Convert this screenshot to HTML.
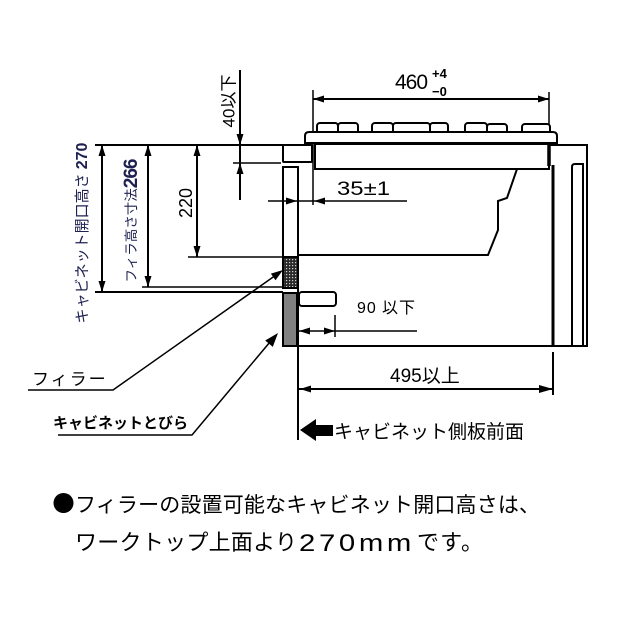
<!DOCTYPE html>
<html><head><meta charset="utf-8">
<style>
html,body{margin:0;padding:0;background:#fff;}
svg{display:block;}
text{font-family:"Liberation Sans","Noto Sans CJK JP",sans-serif;}
</style></head>
<body>
<svg width="640" height="640" viewBox="0 0 640 640" xmlns="http://www.w3.org/2000/svg">
<defs>
<pattern id="dots" width="3" height="3" patternUnits="userSpaceOnUse">
<rect width="3" height="3" fill="#2a2a2a"/>
<rect x="1" y="1" width="1.2" height="1.2" fill="#d0d0d0"/>
</pattern>
</defs>
<rect width="640" height="640" fill="#fff"/>

<g stroke="#000" fill="none">
<line x1="240" y1="70" x2="240" y2="200" stroke-width="2"/>
<line x1="95" y1="145" x2="283" y2="145" stroke-width="2"/>
<line x1="233" y1="163" x2="281" y2="163" stroke-width="1.5"/>
<line x1="197" y1="145" x2="197" y2="257" stroke-width="2"/>
<line x1="188" y1="257" x2="283" y2="257" stroke-width="1.5"/>
<line x1="148" y1="145" x2="148" y2="287" stroke-width="2"/>
<line x1="142" y1="287" x2="283" y2="287" stroke-width="1.5"/>
<line x1="102" y1="145" x2="102" y2="292" stroke-width="2"/>
<line x1="95" y1="292" x2="283" y2="292" stroke-width="2"/>
<line x1="313" y1="90" x2="313" y2="205" stroke-width="1.5"/>
<line x1="549" y1="92" x2="549" y2="143" stroke-width="1.5"/>
<line x1="313" y1="99" x2="549" y2="99" stroke-width="2"/>
</g>

<g fill="#000">
<polygon points="240,145 236.5,134 243.5,134"/>
<polygon points="240,163 236.5,174 243.5,174"/>
<polygon points="197,145 193.5,156 200.5,156"/>
<polygon points="197,257 193.5,246 200.5,246"/>
<polygon points="148,145 144.5,156 151.5,156"/>
<polygon points="148,287 144.5,276 151.5,276"/>
<polygon points="102,145 98.5,156 105.5,156"/>
<polygon points="102,292 98.5,281 105.5,281"/>
<polygon points="313,99 324,95.5 324,102.5"/>
<polygon points="549,99 538,95.5 538,102.5"/>
</g>

<g stroke="#000" stroke-width="2" fill="#fff">
<rect x="317" y="123" width="21" height="11" rx="3"/>
<rect x="338" y="123" width="20" height="11" rx="3"/>
<rect x="372" y="123" width="21" height="11" rx="3"/>
<rect x="393" y="123" width="37" height="11" rx="3"/>
<rect x="430" y="123" width="18" height="11" rx="3"/>
<rect x="465" y="123" width="22" height="11" rx="3"/>
<rect x="487" y="124" width="20" height="10" rx="3"/>
<rect x="522" y="124" width="28" height="10" rx="3"/>
<path d="M305,143 L305,136 Q305,132 309,132 L553,132 Q557,132 557,136 L557,143 Z"/>
<rect x="315" y="144" width="234" height="25"/>
<rect x="283" y="145" width="29" height="17" rx="1"/>
</g>
<line x1="549" y1="143" x2="549" y2="166" stroke="#000" stroke-width="3.5"/>
<polyline points="517,169 507,198 498,201 498,230 488,255 298,255" fill="none" stroke="#000" stroke-width="2"/>

<g stroke="#000" stroke-width="2" fill="none">
<polyline points="549,145 587,145 587,347"/>
<path d="M572,347 L572,167 Q572,164 575,164 L583,164 L583,347"/>
</g>
<line x1="553" y1="165" x2="553" y2="347" stroke="#000" stroke-width="3"/>

<rect x="283" y="167" width="15" height="90" fill="#fff" stroke="#000" stroke-width="2"/>
<rect x="283" y="257" width="15" height="31" fill="url(#dots)" stroke="#000" stroke-width="2"/>

<line x1="268" y1="201" x2="407" y2="201" stroke="#000" stroke-width="1.5"/>
<polygon points="297,201 286,197.5 286,204.5" fill="#000"/>
<polygon points="314,201 325,197.5 325,204.5" fill="#000"/>

<rect x="283" y="293" width="14" height="53" fill="#808080" stroke="#000" stroke-width="2"/>
<rect x="299" y="292" width="37" height="14" rx="3" fill="#fff" stroke="#000" stroke-width="2"/>
<line x1="283" y1="346" x2="587" y2="346" stroke="#000" stroke-width="2"/>
<line x1="298" y1="288" x2="298" y2="440" stroke="#000" stroke-width="2"/>

<line x1="335" y1="315" x2="335" y2="337" stroke="#000" stroke-width="1.5"/>
<line x1="298" y1="331" x2="417" y2="331" stroke="#000" stroke-width="1.5"/>
<polygon points="299,331 310,327.5 310,334.5" fill="#000"/>
<polygon points="335,331 324,327.5 324,334.5" fill="#000"/>

<line x1="553" y1="352" x2="553" y2="395" stroke="#000" stroke-width="2"/>
<line x1="298" y1="389" x2="553" y2="389" stroke="#000" stroke-width="2"/>
<polygon points="300,389 311,385.5 311,392.5" fill="#000"/>
<polygon points="553,389 539,385 539,393" fill="#000"/>

<polygon points="300,430 316,419 316,425 333,425 333,436 316,436 316,441" fill="#000"/>

<g stroke="#000" stroke-width="1.5" fill="none">
<polyline points="28,390 113,390 276,275"/>
<polyline points="58,435 192,435 270,342"/>
</g>
<polygon points="283,270 275.5,280.2 270.9,273.6" fill="#000"/>
<polygon points="278,333 272.8,346.9 265.2,340.5" fill="#000"/>

<text x="0" y="0" font-size="17" transform="translate(229,101) rotate(-90)" text-anchor="middle" dominant-baseline="central">40以下</text>
<text x="0" y="0" font-size="18" transform="translate(186,203) rotate(-90)" text-anchor="middle" dominant-baseline="central">220</text>
<text x="0" y="0" transform="translate(131,221) rotate(-90)" text-anchor="middle" dominant-baseline="central" fill="#1e2050"><tspan font-size="13.5">フィラ高さ寸法</tspan><tspan font-size="19" font-weight="bold" letter-spacing="-1">266</tspan></text>
<text x="0" y="0" transform="translate(82,233) rotate(-90)" text-anchor="middle" dominant-baseline="central" fill="#1e2050"><tspan font-size="15">キャビネット開口高さ </tspan><tspan font-size="16" font-weight="bold">270</tspan></text>

<text x="395" y="89" font-size="21" letter-spacing="-1">460</text>
<text x="432" y="78" font-size="13" font-weight="bold">+4</text>
<text x="432" y="96" font-size="13" font-weight="bold">−0</text>

<text x="337" y="195" font-size="19" textLength="53" lengthAdjust="spacingAndGlyphs">35±1</text>
<text x="357" y="313" font-size="16" textLength="58" lengthAdjust="spacing">90 以下</text>
<text x="390" y="382" font-size="19">495以上</text>
<text x="334" y="438" font-size="19">キャビネット側板前面</text>

<text x="32" y="385" font-size="17" letter-spacing="2">フィラー</text>
<text x="53" y="428" font-size="15" font-weight="bold">キャビネットとびら</text>

<circle cx="63.5" cy="503" r="10" fill="#000"/>
<text x="75" y="512" font-size="21" textLength="465" lengthAdjust="spacing">フィラーの設置可能なキャビネット開口高さは、</text>
<text x="75" y="550" font-size="22" textLength="222" lengthAdjust="spacing">ワークトップ上面より</text>
<text x="299" y="551" font-size="24" letter-spacing="3" textLength="116" lengthAdjust="spacingAndGlyphs">270mm</text>
<text x="417" y="550" font-size="22" textLength="66" lengthAdjust="spacing">です。</text>
</svg>
</body></html>
